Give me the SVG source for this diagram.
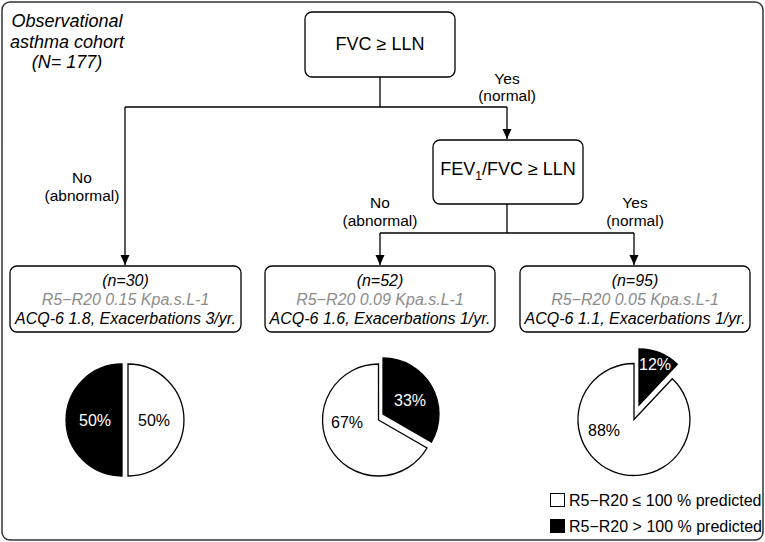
<svg xmlns="http://www.w3.org/2000/svg" width="765" height="542" viewBox="0 0 765 542">
<defs>
<style>
text{font-family:"Liberation Sans",Arial,sans-serif;fill:#000}
.box{fill:#fff;stroke:#000;stroke-width:1.3}
.line{fill:none;stroke:#000;stroke-width:1.3}
.it{font-style:italic}
.c{text-anchor:middle}
.gray{fill:#8c8c8c}
.lbl{font-size:15.5px;text-anchor:middle}
.bt{font-size:16px;font-style:italic;text-anchor:middle}
.pie{stroke:#000;stroke-width:1.3}
.pct{font-size:16px;text-anchor:middle}
</style>
<marker id="arr" markerWidth="10" markerHeight="10" refX="10" refY="4.5" orient="auto" markerUnits="userSpaceOnUse">
<path d="M0,0 L10,4.5 L0,9 Z" fill="#000"/>
</marker>
</defs>
<rect x="2" y="2" width="761" height="538" rx="8" fill="#fff" stroke="#333" stroke-width="1.5"/>
<g id="title">
<text class="it c" x="67" y="27" font-size="18">Observational</text>
<text class="it c" x="67" y="48" font-size="18">asthma cohort</text>
<text class="it c" x="67" y="68" font-size="18">(N= 177)</text>
</g>
<g id="connectors">
<path class="line" d="M380,77 V107"/>
<path class="line" d="M125,107 H507"/>
<path class="line" d="M125,107 V265" marker-end="url(#arr)"/>
<path class="line" d="M507,107 V139" marker-end="url(#arr)"/>
<path class="line" d="M507,204 V233"/>
<path class="line" d="M380,233 H634"/>
<path class="line" d="M380,233 V265" marker-end="url(#arr)"/>
<path class="line" d="M634,233 V265" marker-end="url(#arr)"/>
<text class="lbl" x="507" y="84">Yes</text>
<text class="lbl" x="507" y="101">(normal)</text>
<text class="lbl" x="82" y="183">No</text>
<text class="lbl" x="82" y="201">(abnormal)</text>
<text class="lbl" x="380" y="208">No</text>
<text class="lbl" x="380" y="226">(abnormal)</text>
<text class="lbl" x="635" y="208">Yes</text>
<text class="lbl" x="635" y="226">(normal)</text>
</g>
<g id="fvc">
<rect class="box" x="305" y="12" width="150" height="65" rx="7"/>
<text class="c" x="380" y="50" font-size="18">FVC ≥ LLN</text>
</g>
<g id="fev">
<rect class="box" x="433" y="140" width="150" height="64" rx="7"/>
<text class="c" x="508" y="175" font-size="18">FEV<tspan font-size="12" dy="5">1</tspan><tspan dy="-5">/FVC ≥ LLN</tspan></text>
</g>
<g id="group1">
<rect class="box" x="10" y="266" width="231" height="66" rx="7"/>
<text class="bt" x="125.5" y="286">(n=30)</text>
<text class="bt gray" x="125.5" y="305">R5−R20 0.15 Kpa.s.L-1</text>
<text class="bt" x="125.5" y="324">ACQ-6 1.8, Exacerbations 3/yr.</text>
</g>
<g id="group2">
<rect class="box" x="265" y="266" width="230" height="66" rx="7"/>
<text class="bt" x="380" y="286">(n=52)</text>
<text class="bt gray" x="380" y="305">R5−R20 0.09 Kpa.s.L-1</text>
<text class="bt" x="380" y="324">ACQ-6 1.6, Exacerbations 1/yr.</text>
</g>
<g id="group3">
<rect class="box" x="520" y="266" width="230" height="66" rx="7"/>
<text class="bt" x="635" y="286">(n=95)</text>
<text class="bt gray" x="635" y="305">R5−R20 0.05 Kpa.s.L-1</text>
<text class="bt" x="635" y="324">ACQ-6 1.1, Exacerbations 1/yr.</text>
</g>
<g id="pie1">
<path class="pie" fill="#000" d="M122,420 L122,364 A56,56 0 0 0 122,476 Z"/>
<path class="pie" fill="#fff" d="M128,420 L128,364 A56,56 0 0 1 128,476 Z"/>
<text class="pct" x="95" y="426" style="fill:#fff">50%</text>
<text class="pct" x="154" y="426">50%</text>
</g>
<g id="pie2">
<path class="pie" fill="#fff" d="M378.5,420 L427,448 A56,56 0 1 1 378.5,364 Z"/>
<path class="pie" fill="#000" d="M383,414 L383,358 A56,56 0 0 1 431.5,442 Z"/>
<text class="pct" x="410" y="406" style="fill:#fff">33%</text>
<text class="pct" x="347" y="428">67%</text>
</g>
<g id="pie3">
<path class="pie" fill="#fff" d="M634,419.5 L672.3,378.7 A56,56 0 1 1 634,363.5 Z"/>
<path class="pie" fill="#000" d="M639,405 L639,349 A56,56 0 0 1 677.3,364.2 Z"/>
<text class="pct" x="655" y="370" style="fill:#fff">12%</text>
<text class="pct" x="604" y="436">88%</text>
</g>
<g id="legend">
<rect x="550.5" y="493.5" width="14" height="13" fill="#fff" stroke="#000" stroke-width="1"/>
<text x="569" y="506" font-size="16">R5−R20 ≤ 100 % predicted</text>
<rect x="550" y="519" width="15" height="14" fill="#000"/>
<text x="569" y="532" font-size="16">R5−R20 &gt; 100 % predicted</text>
</g>
</svg>
